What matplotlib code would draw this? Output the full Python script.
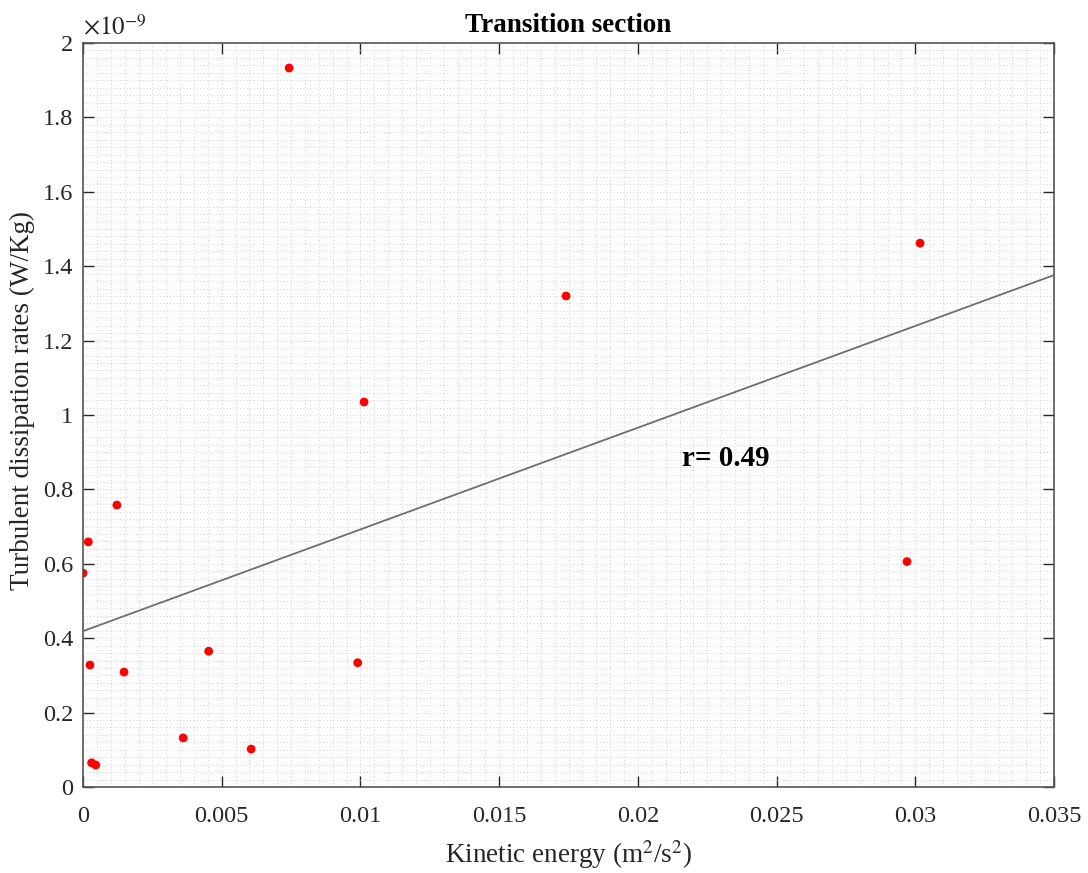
import matplotlib
matplotlib.use("Agg")
import matplotlib.pyplot as plt
from matplotlib.ticker import MultipleLocator, FuncFormatter

# kinetic energy (m^2/s^2) and dissipation rate (x 1e-9 W/Kg)
kinetic = [0.00743, 0.03017, 0.01741, 0.01013, 0.00122, 0.00019, 0.0000,
           0.0297, 0.00453, 0.00990, 0.00025, 0.00148, 0.00361, 0.00606,
           0.00031, 0.00046]
dissipation = [1.933, 1.462, 1.320, 1.035, 0.758, 0.659, 0.575,
               0.606, 0.365, 0.334, 0.328, 0.309, 0.132, 0.102,
               0.065, 0.059]

# fitted line
fit_x = [0.0, 0.035]
fit_intercept = 0.419
fit_slope = 27.35
r_label = "r= 0.49"

plt.rcParams['font.family'] = ['Liberation Serif', 'DejaVu Serif']
plt.rcParams['mathtext.fontset'] = 'stix'

fig = plt.figure(figsize=(10.88, 8.73), dpi=100)
ax = fig.add_axes([0.0763, 0.0985, 0.8925, 0.8522])

fit_y = [fit_intercept + fit_slope * v for v in fit_x]
ax.plot(fit_x, fit_y, color='#6e6e6e', lw=1.3, zorder=3)
ax.scatter(kinetic, dissipation, s=40, color='#ff0000', edgecolors='none', zorder=4)

ax.set_xlim(0, 0.035)
ax.set_ylim(0, 2)
ax.xaxis.set_major_locator(MultipleLocator(0.005))
ax.yaxis.set_major_locator(MultipleLocator(0.2))
ax.xaxis.set_minor_locator(MultipleLocator(0.0005))
ax.yaxis.set_minor_locator(MultipleLocator(0.02))
fmt = FuncFormatter(lambda v, p: '%g' % round(v, 6))
ax.xaxis.set_major_formatter(fmt)
ax.yaxis.set_major_formatter(fmt)

ax.grid(which='both', linestyle=(0, (1, 3)), color='#c4c4c4', lw=0.6)
ax.set_axisbelow(True)
ax.tick_params(which='major', direction='in', length=8, width=1,
               top=True, right=True, labelsize=17.5, colors='#262626')
ax.tick_params(axis='x', which='major', pad=14)
ax.tick_params(axis='y', which='major', pad=7)
ax.tick_params(which='minor', length=0, top=True, right=True)
for sp in ax.spines.values():
    sp.set_color('#555555')
    sp.set_linewidth(1.2)

ax.text(0.0216, 0.884, r_label, fontsize=21, fontweight='bold', va='center')
ax.text(0.0, 2.008, r'$\times10^{-9}$', fontsize=18, ha='left', va='bottom',
        color='#262626')

ax.set_title('Transition section', fontsize=19.5, fontweight='bold', pad=8)
ax.set_xlabel('Kinetic energy (m$^2$/s$^2$)', fontsize=19.5, color='#262626', labelpad=8)
ax.set_ylabel('Turbulent dissipation rates (W/Kg)', fontsize=19.5, color='#262626')
ax.yaxis.set_label_coords(-0.049, 0.52)

fig.savefig('out.png', dpi=100)
